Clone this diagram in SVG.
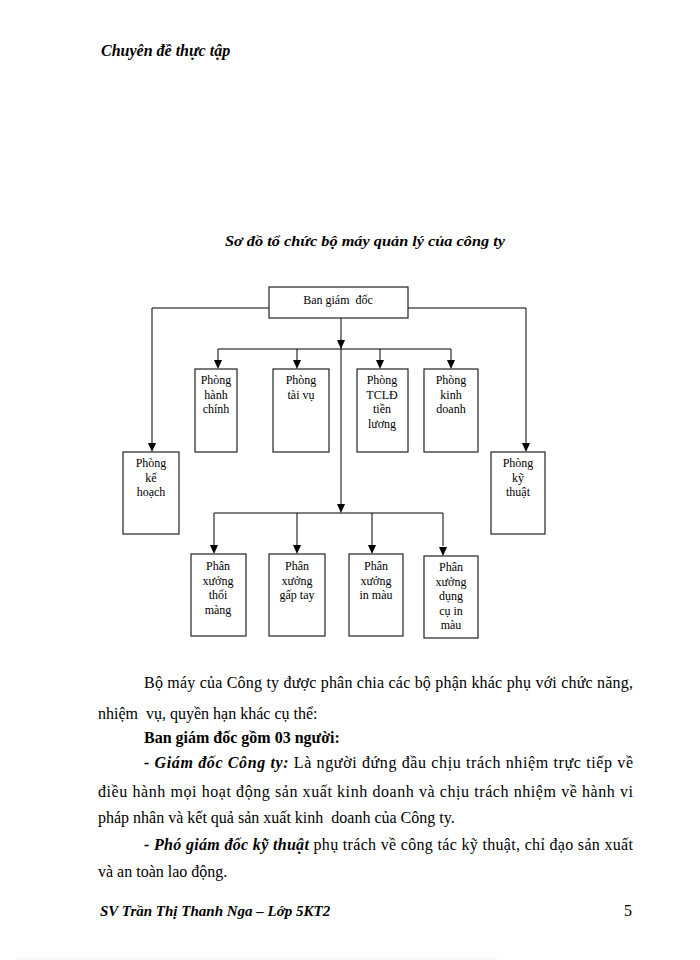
<svg xmlns="http://www.w3.org/2000/svg" width="700" height="960" viewBox="0 0 700 960">
<style>
text{font-family:"Liberation Serif","Times New Roman",serif;fill:#000}
.bx{fill:#fff;stroke:#222;stroke-width:1.2}
.lb{font-size:12px;text-anchor:middle}
.ln{fill:none;stroke:#000;stroke-width:1}
.body{font-size:16px}
.bi{font-weight:bold;font-style:italic}
.b{font-weight:bold}
</style>
<rect width="700" height="960" fill="#fff"/>
<text x="101" y="56" class="bi" font-size="16">Chuyên đề thực tập</text>
<text x="225" y="246" class="bi" font-size="14.5" textLength="280" lengthAdjust="spacingAndGlyphs">Sơ đồ tổ chức bộ máy quản lý của công ty</text>

<g id="connectors">
<path class="ln" d="M269,308 H152 V443"/>
<path class="ln" d="M408,308 H526 V443"/>
<path class="ln" d="M341,318 V341"/>
<path class="ln" d="M341,341 V505"/>
<path class="ln" d="M218,349 H451"/>
<path class="ln" d="M218,349 V360"/>
<path class="ln" d="M297,349 V360"/>
<path class="ln" d="M380,349 V360"/>
<path class="ln" d="M451,349 V360"/>
<path class="ln" d="M214,513 H443"/>
<path class="ln" d="M214,513 V545"/>
<path class="ln" d="M297,513 V545"/>
<path class="ln" d="M372,513 V545"/>
<path class="ln" d="M443,513 V546"/>
<g fill="#000">
<path d="M148,443 h8 l-4,9 z"/>
<path d="M522,443 h8 l-4,9 z"/>
<path d="M337,340 h8 l-4,9 z"/>
<path d="M337,504 h8 l-4,9 z"/>
<path d="M214,360 h8 l-4,9 z"/>
<path d="M293,360 h8 l-4,9 z"/>
<path d="M376,360 h8 l-4,9 z"/>
<path d="M447,360 h8 l-4,9 z"/>
<path d="M210,545 h8 l-4,9 z"/>
<path d="M293,545 h8 l-4,9 z"/>
<path d="M368,545 h8 l-4,9 z"/>
<path d="M439,547 h8 l-4,9 z"/>
</g>
</g>

<g id="ban-giam-doc">
<rect class="bx" x="269" y="287" width="139" height="31"/>
<text class="lb" x="338" y="304" font-size="13" xml:space="preserve">Ban giám  đốc</text>
</g>
<g id="phong-hanh-chinh">
<rect class="bx" x="195" y="369" width="42" height="83"/>
<text class="lb" x="216" y="384">Phòng<tspan x="216" dy="14.5">hành</tspan><tspan x="216" dy="14.5">chính</tspan></text>
</g>
<g id="phong-tai-vu">
<rect class="bx" x="273" y="369" width="56" height="83"/>
<text class="lb" x="301" y="384">Phòng<tspan x="301" dy="14.5">tài vụ</tspan></text>
</g>
<g id="phong-tcld">
<rect class="bx" x="357" y="369" width="51" height="83"/>
<text class="lb" x="382" y="384">Phòng<tspan x="382" dy="14.5">TCLĐ</tspan><tspan x="382" dy="14.5">tiền</tspan><tspan x="382" dy="14.5">lương</tspan></text>
</g>
<g id="phong-kinh-doanh">
<rect class="bx" x="424" y="369" width="54" height="83"/>
<text class="lb" x="451" y="384">Phòng<tspan x="451" dy="14.5">kinh</tspan><tspan x="451" dy="14.5">doanh</tspan></text>
</g>
<g id="phong-ke-hoach">
<rect class="bx" x="123" y="452" width="56" height="82"/>
<text class="lb" x="151" y="467">Phòng<tspan x="151" dy="14.5">kế</tspan><tspan x="151" dy="14.5">hoạch</tspan></text>
</g>
<g id="phong-ky-thuat">
<rect class="bx" x="491" y="452" width="54" height="82"/>
<text class="lb" x="518" y="467">Phòng<tspan x="518" dy="14.5">kỹ</tspan><tspan x="518" dy="14.5">thuật</tspan></text>
</g>
<g id="px-thoi-mang">
<rect class="bx" x="191" y="554" width="55" height="82"/>
<text class="lb" x="218" y="570">Phân<tspan x="218" dy="14.5">xưởng</tspan><tspan x="218" dy="14.5">thổi</tspan><tspan x="218" dy="14.5">màng</tspan></text>
</g>
<g id="px-gap-tay">
<rect class="bx" x="269" y="554" width="56" height="82"/>
<text class="lb" x="297" y="570">Phân<tspan x="297" dy="14.5">xưởng</tspan><tspan x="297" dy="14.5">gấp tay</tspan></text>
</g>
<g id="px-in-mau">
<rect class="bx" x="349" y="554" width="54" height="82"/>
<text class="lb" x="376" y="570">Phân<tspan x="376" dy="14.5">xưởng</tspan><tspan x="376" dy="14.5">in màu</tspan></text>
</g>
<g id="px-dung-cu">
<rect class="bx" x="424" y="556" width="54" height="82"/>
<text class="lb" x="451" y="571">Phân<tspan x="451" dy="14.5">xưởng</tspan><tspan x="451" dy="14.5">dụng</tspan><tspan x="451" dy="14.5">cụ in</tspan><tspan x="451" dy="14.5">màu</tspan></text>
</g>

<g class="body">
<text x="144" y="688" textLength="489" lengthAdjust="spacing">Bộ máy của Công ty được phân chia các bộ phận khác phụ với chức năng,</text>
<text x="98" y="719" xml:space="preserve">nhiệm  vụ, quyền hạn khác cụ thể:</text>
<text x="144" y="743" class="b">Ban giám đốc gồm 03 người:</text>
<text x="144" y="768" textLength="489" lengthAdjust="spacing"><tspan class="bi">- Giám đốc Công ty:</tspan> Là người đứng đầu chịu trách nhiệm trực tiếp về</text>
<text x="98" y="797" textLength="535" lengthAdjust="spacing">điều hành mọi hoạt động sản xuất kinh doanh và chịu trách nhiệm về hành vi</text>
<text x="98" y="823" xml:space="preserve">pháp nhân và kết quả sản xuất kinh  doanh của Công ty.</text>
<text x="144" y="850" textLength="489" lengthAdjust="spacing"><tspan class="bi">- Phó giám đốc kỹ thuật</tspan> phụ trách về công tác kỹ thuật, chỉ đạo sản xuất</text>
<text x="98" y="877">và an toàn lao động.</text>
<text x="100" y="916" class="bi" font-size="15">SV Trần Thị Thanh Nga – Lớp 5KT2</text>
<text x="624" y="916">5</text>
</g>
<line x1="18" y1="959" x2="502" y2="959" stroke="#bfe6dc" stroke-width="1" stroke-dasharray="1 3"/>
</svg>
